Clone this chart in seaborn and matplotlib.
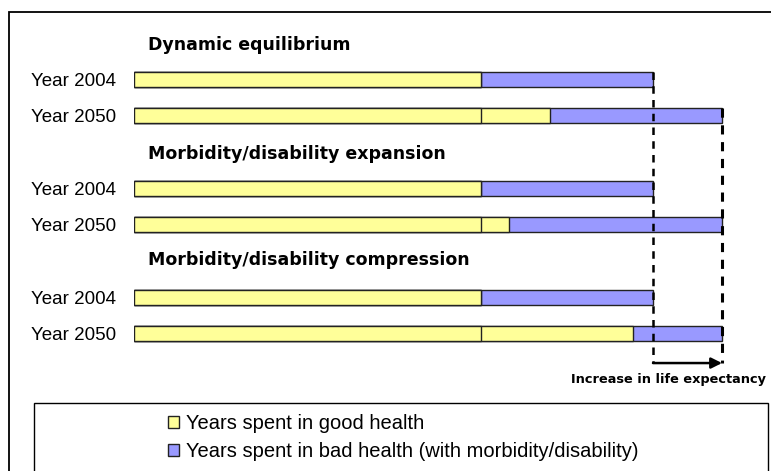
import numpy as np
import pandas as pd
import matplotlib
matplotlib.use('Agg')
import matplotlib.pyplot as plt
from matplotlib.patches import Patch, Rectangle
import seaborn as sns

# Values in arbitrary units (2004 life expectancy = 100)
rows = [0, 1, 3, 4, 6, 7]
year_labels = ['Year 2004', 'Year 2050', 'Year 2004', 'Year 2050', 'Year 2004', 'Year 2050']
good_2004 = [66.9, 66.9, 66.9, 66.9, 66.9, 66.9]
good_health = [66.9, 80.2, 66.9, 72.3, 66.9, 96.1]
total_years = [100, 113.3, 100, 113.3, 100, 113.3]
scenarios = ['Dynamic equilibrium', 'Morbidity/disability expansion',
             'Morbidity/disability compression']
scenario_rows = [-0.95, 2.05, 4.97]

YELLOW = '#FFFF99'
BLUE = '#9999FF'
EDGE = '#222222'

sns.set_style('white')
plt.rcParams['font.family'] = ['Liberation Sans', 'DejaVu Sans']
plt.rcParams['text.color'] = 'black'
plt.rcParams['ytick.color'] = 'black'
plt.rcParams['ytick.labelcolor'] = 'black'

df = pd.DataFrame({'row': rows, 'label': year_labels, 'base': good_2004,
                   'good': good_health, 'total': total_years})

W, H = 771, 471
fig = plt.figure(figsize=(W / 100, H / 100), dpi=100)
ax = fig.add_axes([134 / W, 1 - 395 / H, 616 / W, 365 / H])

# stacked look: total (bad health) underneath, good health painted over it
for col, colr in [('total', BLUE), ('good', YELLOW), ('base', YELLOW)]:
    sns.barplot(data=df, x=col, y='row', orient='h', native_scale=True,
                color=colr, saturation=1, edgecolor=EDGE, linewidth=1,
                width=0.41, errorbar=None, ax=ax)

ax.set_xlim(0, 616 / 5.19)
ax.set_ylim(8.69, -1.364)
ax.set_yticks(rows)
ax.set_yticklabels(year_labels)
ax.set_xticks([])
ax.tick_params(axis='y', length=0, pad=13, labelsize=13.5, labelcolor='black')
ax.set_xlabel('')
ax.set_ylabel('')
for s in ax.spines.values():
    s.set_visible(False)

for name, r in zip(scenarios, scenario_rows):
    ax.text(2.7, r, name, fontsize=12.5, fontweight='bold', ha='left', va='center',
            family='DejaVu Sans')

# dashed markers of life expectancy and the increase arrow
t04, t50 = total_years[0], total_years[1]
y_arrow = 7.81
ax.plot([t04, t04], [-0.2, y_arrow], color='black', ls=(0, (3, 2.5)), lw=1.8, clip_on=False)
ax.plot([t50, t50], [0.79, y_arrow], color='black', ls=(0, (3, 2.5)), lw=2.2, clip_on=False)
ax.annotate('', xy=(t50, y_arrow), xytext=(t04, y_arrow),
            arrowprops=dict(arrowstyle='-|>', color='black', lw=1.8,
                            mutation_scale=16, shrinkA=0, shrinkB=0))
fig.text(766 / W, 1 - 379 / H, 'Increase in life expectancy', fontsize=9.3,
         fontweight='bold', ha='right', va='center', family='DejaVu Sans')

# outer frame and legend box (both run past the picture edges)
fig.patches.append(Rectangle((9 / W, -0.1), 1.2, 1.1 - 12 / H, transform=fig.transFigure,
                             fill=False, edgecolor='black', lw=1.3))
fig.patches.append(Rectangle((34 / W, -0.1), (768 - 34) / W, 0.1 + 1 - 403 / H,
                             transform=fig.transFigure, fill=False, edgecolor='black', lw=1.0))

handles = [Patch(facecolor=YELLOW, edgecolor=EDGE, lw=1),
           Patch(facecolor=BLUE, edgecolor=EDGE, lw=1)]
fig.legend(handles, ['Years spent in good health',
                     'Years spent in bad health (with morbidity/disability)'],
           loc='upper left', bbox_to_anchor=(168 / W, 1 - 414 / H), frameon=False,
           fontsize=14.5, handlelength=0.55, handleheight=0.55, handletextpad=0.35,
           labelspacing=0.45, borderpad=0, borderaxespad=0)

fig.savefig('out.png', dpi=100)
